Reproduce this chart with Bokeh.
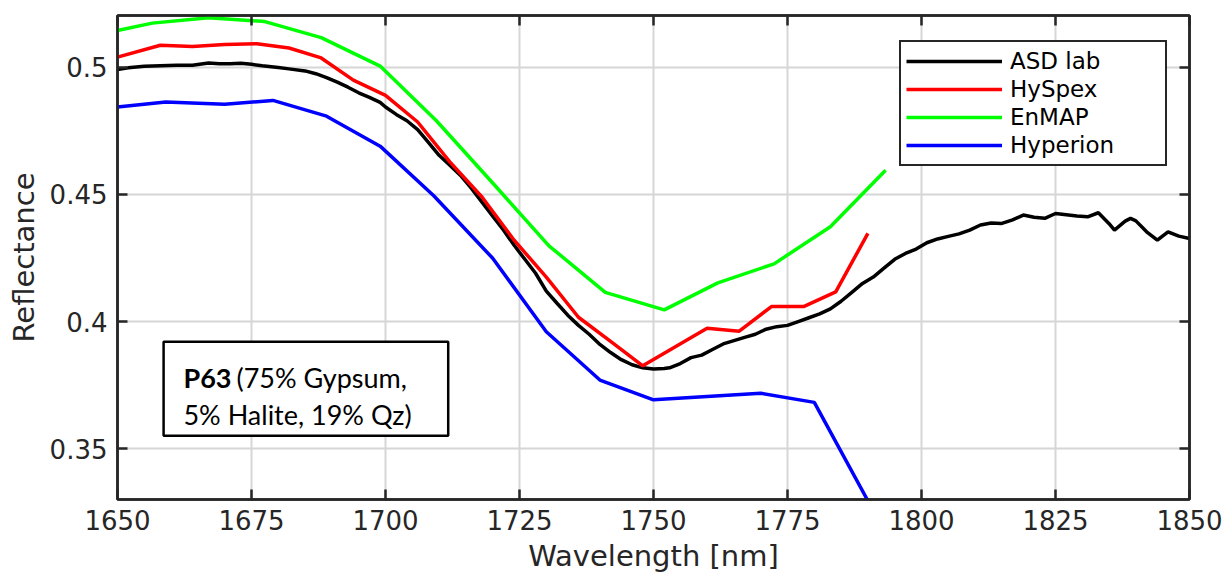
from bokeh.plotting import figure
from bokeh.models import (Range1d, FixedTicker, LinearAxis, Legend, LegendItem,
                          BoxAnnotation, Label)
from bokeh.embed import file_html
from bokeh.resources import INLINE

# ASD lab spectrum (1 nm instrument, sampled)
asd_wl = [1650, 1652, 1655, 1658, 1661, 1664, 1667, 1669, 1671, 1673, 1675, 1677,
          1680, 1682, 1685, 1687, 1689, 1691, 1693, 1695, 1697, 1699, 1700, 1702,
          1704, 1706, 1708, 1710, 1712, 1714, 1716, 1718, 1720, 1722, 1724, 1726,
          1728, 1730, 1732, 1734, 1736, 1738, 1740, 1742, 1744, 1746, 1748, 1750,
          1752, 1753, 1755, 1757, 1759, 1761, 1763, 1765, 1767, 1769, 1771, 1773,
          1775, 1777, 1779, 1781, 1783, 1785, 1787, 1789, 1791, 1793, 1795, 1797,
          1799, 1801, 1803, 1805, 1807, 1809, 1811, 1813, 1815, 1817, 1819, 1821,
          1823, 1825, 1827, 1829, 1831, 1833, 1835, 1836, 1838, 1839, 1840, 1842,
          1844, 1846, 1848, 1850]
asd_refl = [0.4991, 0.4998, 0.5004, 0.5006, 0.5008, 0.5008, 0.5017, 0.5014, 0.5014,
            0.5016, 0.5012, 0.5006, 0.4999, 0.4994, 0.4986, 0.4975, 0.4960, 0.4942,
            0.4922, 0.4900, 0.4882, 0.4862, 0.4844, 0.4815, 0.4790, 0.4755, 0.4705,
            0.4654, 0.4615, 0.4575, 0.4525, 0.4470, 0.4415, 0.4360, 0.4300, 0.4245,
            0.4190, 0.4120, 0.4072, 0.4025, 0.3985, 0.3950, 0.3910, 0.3878, 0.3850,
            0.3830, 0.3818, 0.3813, 0.3815, 0.3818, 0.3835, 0.3858, 0.3868, 0.3890,
            0.3912, 0.3925, 0.3938, 0.3950, 0.3970, 0.3980, 0.3985, 0.4000, 0.4015,
            0.4030, 0.4050, 0.4080, 0.4115, 0.4150, 0.4175, 0.4210, 0.4245, 0.4268,
            0.4285, 0.4310, 0.4325, 0.4335, 0.4345, 0.4360, 0.4380, 0.4388, 0.4386,
            0.4400, 0.4419, 0.4410, 0.4406, 0.4425, 0.4420, 0.4415, 0.4412, 0.4428,
            0.4385, 0.4360, 0.4395, 0.4406, 0.4396, 0.4353, 0.4320, 0.4353, 0.4336,
            0.4327]

# HySpex resampled
hyspex_wl = [1650, 1658, 1664, 1670, 1676, 1682, 1688, 1694, 1700, 1706, 1712, 1718,
             1724, 1730, 1736, 1742, 1748, 1754, 1760, 1766, 1772, 1778, 1784, 1790]
hyspex_refl = [0.5040, 0.5087, 0.5082, 0.5090, 0.5093, 0.5076, 0.5037, 0.4950,
               0.4890, 0.4785, 0.4628, 0.4490, 0.4320, 0.4175, 0.4017, 0.3922,
               0.3826, 0.3900, 0.3974, 0.3962, 0.4059, 0.4059, 0.4117, 0.4347]

# EnMAP resampled
enmap_wl = [1650, 1656.5, 1667, 1677.5, 1688, 1699, 1709.5, 1720, 1730.5, 1741,
            1752, 1762, 1772.5, 1783, 1793.3]
enmap_refl = [0.5145, 0.5174, 0.5195, 0.5180, 0.5117, 0.5005, 0.4790, 0.4545,
              0.4298, 0.4115, 0.4046, 0.4152, 0.4227, 0.4373, 0.4595]

# Hyperion resampled
hyperion_wl = [1650, 1659, 1670, 1679, 1689, 1699, 1709, 1720, 1730, 1740, 1750,
               1760, 1770, 1780, 1790]
hyperion_refl = [0.4844, 0.4864, 0.4855, 0.4870, 0.4808, 0.4690, 0.4495, 0.4249,
                 0.3960, 0.3770, 0.3692, 0.3705, 0.3718, 0.3682, 0.3295]

x_ticks = [1650, 1675, 1700, 1725, 1750, 1775, 1800, 1825, 1850]
y_ticks = [0.35, 0.4, 0.45, 0.5]
y_tick_labels = ["0.35", "0.4", "0.45", "0.5"]

AX = "#262626"
FONT = "DejaVu Sans"

p = figure(width=1225, height=575, x_range=Range1d(1650, 1850),
           y_range=Range1d(0.33, 0.5204), output_backend="svg",
           toolbar_location=None, min_border_left=117, min_border_right=36,
           min_border_top=15, min_border_bottom=75)
p.background_fill_color = "white"
p.border_fill_color = "white"
p.outline_line_color = AX
p.outline_line_width = 2.5
p.outline_line_alpha = 1

p.xaxis.ticker = FixedTicker(ticks=x_ticks)
p.yaxis.ticker = FixedTicker(ticks=y_ticks)
p.yaxis.major_label_overrides = dict(zip(y_ticks, y_tick_labels))
p.xaxis.axis_label = "Wavelength [nm]"
p.yaxis.axis_label = "Reflectance"

for ax in (p.xaxis[0], p.yaxis[0]):
    ax.axis_line_color = AX
    ax.axis_line_width = 2.5
    ax.major_tick_line_color = AX
    ax.major_tick_line_width = 2.5
    ax.major_tick_in = 10
    ax.major_tick_out = 0
    ax.minor_tick_line_color = None
    ax.major_label_text_font = FONT
    ax.major_label_text_font_size = "26px"
    ax.major_label_text_color = AX
    ax.major_label_standoff = 10
    ax.axis_label_text_font = FONT
    ax.axis_label_text_font_size = "29px"
    ax.axis_label_text_font_style = "normal"
    ax.axis_label_text_color = AX
    ax.axis_label_standoff = 6

# tick marks only (no labels) on the right and top edges of the box
for side, ticks in (("right", y_ticks), ("above", x_ticks)):
    ax = LinearAxis(ticker=FixedTicker(ticks=ticks))
    ax.axis_line_color = AX
    ax.axis_line_width = 2.5
    ax.major_tick_line_color = AX
    ax.major_tick_line_width = 2.5
    ax.major_tick_in = 10
    ax.major_tick_out = 0
    ax.minor_tick_line_color = None
    ax.major_label_text_color = None
    ax.major_label_text_font_size = "1px"
    ax.major_label_standoff = 0
    p.add_layout(ax, side)

for g in (p.xgrid[0], p.ygrid[0]):
    g.grid_line_color = "#d6d6d6"
    g.grid_line_width = 2

r_asd = p.line(asd_wl, asd_refl, line_color="black", line_width=3.5)
r_hys = p.line(hyspex_wl, hyspex_refl, line_color="#ff0000", line_width=3.5)
r_enm = p.line(enmap_wl, enmap_refl, line_color="#00ff00", line_width=3.5)
r_hyp = p.line(hyperion_wl, hyperion_refl, line_color="#0000ff", line_width=3.5)

legend = Legend(items=[LegendItem(label="ASD lab", renderers=[r_asd]),
                       LegendItem(label="HySpex", renderers=[r_hys]),
                       LegendItem(label="EnMAP", renderers=[r_enm]),
                       LegendItem(label="Hyperion", renderers=[r_hyp])],
                location=(782, 333))
legend.border_line_color = "#262626"
legend.border_line_width = 2.5
legend.border_line_alpha = 1
legend.background_fill_color = "white"
legend.background_fill_alpha = 1
legend.label_text_font = FONT
legend.label_text_font_size = "23px"
legend.label_text_color = "black"
legend.padding = 5
legend.spacing = 0
legend.margin = 0
legend.glyph_width = 96
legend.glyph_height = 28
legend.label_height = 28
legend.label_width = 150
legend.label_standoff = 8
p.add_layout(legend)

# sample description box
p.add_layout(BoxAnnotation(left=1658.6, right=1711.7, bottom=0.3551, top=0.3921,
                           fill_color="white", fill_alpha=1, line_color="black",
                           line_alpha=1, line_width=2.5, level="annotation"))
p.add_layout(Label(x=1662.3, y=0.3778, text="P63", text_font="Lato",
                   text_font_style="bold", text_font_size="27px",
                   text_color="black", text_baseline="alphabetic"))
p.add_layout(Label(x=1662.3, y=0.3778, x_offset=53, text="(75% Gypsum,",
                   text_font="Lato", text_font_size="27px", text_color="black",
                   text_baseline="alphabetic"))
p.add_layout(Label(x=1662.3, y=0.3633, text="5% Halite, 19% Qz)",
                   text_font="Lato", text_font_size="27px", text_color="black",
                   text_baseline="alphabetic"))

open("out.html", "w").write(file_html(p, INLINE))
